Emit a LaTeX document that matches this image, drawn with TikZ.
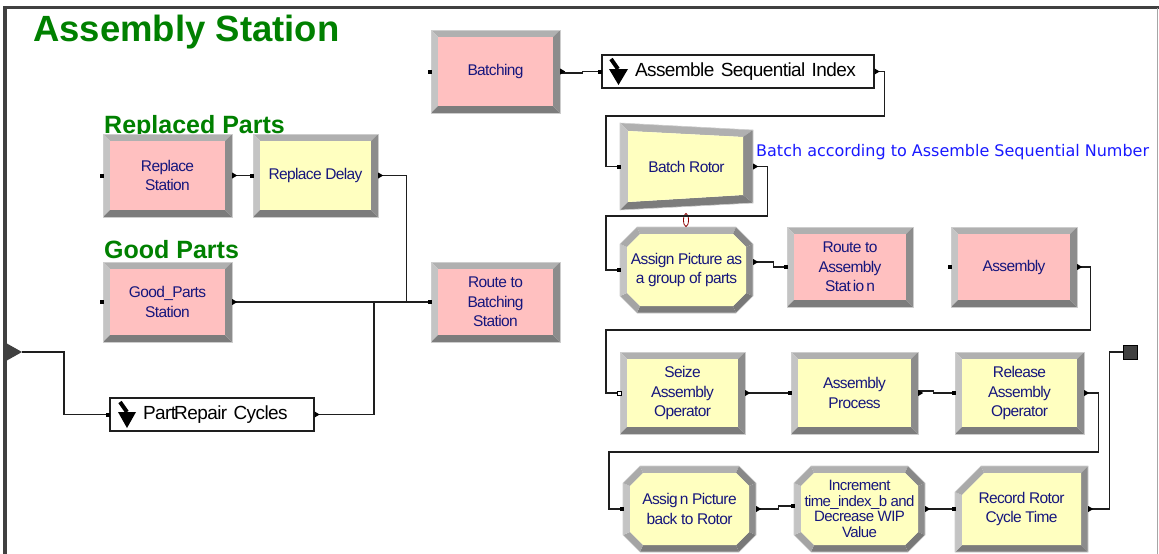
\documentclass[tikz,border=0pt]{standalone}
\usepackage{fontspec}
\setmainfont{Liberation Sans}
\newfontfamily\modfont[LetterSpace=-4]{Liberation Sans}
\newfontfamily\blkfont[LetterSpace=-3]{Liberation Sans}
\newfontfamily\notefont{DejaVu Sans}
\usetikzlibrary{calc}
\definecolor{pinkfill}{RGB}{255,192,192}
\definecolor{yelfill}{RGB}{255,255,192}
\definecolor{modtxt}{RGB}{22,22,125}
\definecolor{ttlgreen}{RGB}{0,128,0}
\definecolor{noteblue}{RGB}{25,25,255}
\definecolor{cT}{RGB}{176,176,176}
\definecolor{cL}{RGB}{196,196,196}
\definecolor{cB}{RGB}{124,124,124}
\definecolor{cR}{RGB}{140,140,140}
\definecolor{cTR}{RGB}{136,136,136}
\definecolor{cBR}{RGB}{120,120,120}
\definecolor{cBL}{RGB}{164,164,164}
\definecolor{cTL}{RGB}{170,170,170}
\definecolor{cO}{RGB}{205,205,205}
\definecolor{linec}{RGB}{30,30,30}
\definecolor{framec}{RGB}{64,64,64}
\tikzset{
  bandT/.style={fill=cT}, bandL/.style={fill=cL}, bandB/.style={fill=cB}, bandR/.style={fill=cR},
  bandTR/.style={fill=cTR}, bandBR/.style={fill=cBR}, bandBL/.style={fill=cBL}, bandTL/.style={fill=cTL},
  bandO/.style={draw=cO, line width=0.6pt},
  modlabel/.style={draw=none, inner sep=0pt, align=center, text=modtxt,
    font=\modfont\fontsize{15.5}{19.5}\selectfont},
  blkbox/.style={draw=linec, line width=1.3pt, fill=white, inner xsep=6pt, inner ysep=0pt,
    text width=#1, align=left, text=black, font=\blkfont\fontsize{19}{22}\selectfont},
  conn/.style={draw=linec, line width=1.1pt},
  entrym/.style={fill=black},
  exitm/.style={fill=black},
  ttl/.style={text=ttlgreen, anchor=base west, inner sep=0pt},
  notesty/.style={text=noteblue, anchor=base west, inner sep=0pt, font=\notefont\fontsize{16}{20}\selectfont},
  dispbox/.style={draw=black, fill=framec, line width=0.8pt, inner sep=0pt},
  ovalsty/.style={draw=red!55!black, fill=white, line width=0.8pt},
  iconsty/.style={fill=black}
}
\newcommand\bevrect[5]{%
  \fill[bandT] (#1,#2) -- (#3,#2) -- ({#3-7},{#2+7}) -- ({#1+7},{#2+7}) -- cycle;
  \fill[bandL] (#1,#2) -- ({#1+7},{#2+7}) -- ({#1+7},{#4-7}) -- (#1,#4) -- cycle;
  \fill[bandB] (#1,#4) -- ({#1+7},{#4-7}) -- ({#3-7},{#4-7}) -- (#3,#4) -- cycle;
  \fill[bandR] (#3,#2) -- (#3,#4) -- ({#3-7},{#4-7}) -- ({#3-7},{#2+7}) -- cycle;
  \fill[#5] ({#1+7},{#2+7}) rectangle ({#3-7},{#4-7});
  \draw[bandO] (#1,#2) rectangle (#3,#4);
}
\newcommand\bevoct[5]{%
  \fill[bandT] ({#1+17},#2) -- ({#3-17},#2) -- ({#3-20},{#2+7}) -- ({#1+20},{#2+7}) -- cycle;
  \fill[bandTR] ({#3-17},#2) -- (#3,{#2+17}) -- ({#3-7},{#2+20}) -- ({#3-20},{#2+7}) -- cycle;
  \fill[bandR] (#3,{#2+17}) -- (#3,{#4-17}) -- ({#3-7},{#4-20}) -- ({#3-7},{#2+20}) -- cycle;
  \fill[bandBR] (#3,{#4-17}) -- ({#3-17},#4) -- ({#3-20},{#4-7}) -- ({#3-7},{#4-20}) -- cycle;
  \fill[bandB] ({#3-17},#4) -- ({#1+17},#4) -- ({#1+20},{#4-7}) -- ({#3-20},{#4-7}) -- cycle;
  \fill[bandBL] ({#1+17},#4) -- (#1,{#4-17}) -- ({#1+7},{#4-20}) -- ({#1+20},{#4-7}) -- cycle;
  \fill[bandL] (#1,{#4-17}) -- (#1,{#2+17}) -- ({#1+7},{#2+20}) -- ({#1+7},{#4-20}) -- cycle;
  \fill[bandTL] (#1,{#2+17}) -- ({#1+17},#2) -- ({#1+20},{#2+7}) -- ({#1+7},{#2+20}) -- cycle;
  \fill[#5] ({#1+20},{#2+7}) -- ({#3-20},{#2+7}) -- ({#3-7},{#2+20}) -- ({#3-7},{#4-20})
     -- ({#3-20},{#4-7}) -- ({#1+20},{#4-7}) -- ({#1+7},{#4-20}) -- ({#1+7},{#2+20}) -- cycle;
  \draw[bandO] ({#1+17},#2) -- ({#3-17},#2) -- (#3,{#2+17}) -- (#3,{#4-17}) -- ({#3-17},#4)
     -- ({#1+17},#4) -- (#1,{#4-17}) -- (#1,{#2+17}) -- cycle;
}
\newcommand\bevrec[5]{%
  \fill[bandT] ({#1+26},#2) -- (#3,#2) -- ({#3-7},{#2+7}) -- ({#1+29},{#2+7}) -- cycle;
  \fill[bandR] (#3,#2) -- (#3,#4) -- ({#3-7},{#4-7}) -- ({#3-7},{#2+7}) -- cycle;
  \fill[bandB] (#3,#4) -- (#1,#4) -- ({#1+7},{#4-7}) -- ({#3-7},{#4-7}) -- cycle;
  \fill[bandL] (#1,#4) -- (#1,{#2+26}) -- ({#1+7},{#2+29}) -- ({#1+7},{#4-7}) -- cycle;
  \fill[bandTL] (#1,{#2+26}) -- ({#1+26},#2) -- ({#1+29},{#2+7}) -- ({#1+7},{#2+29}) -- cycle;
  \fill[#5] ({#1+29},{#2+7}) -- ({#3-7},{#2+7}) -- ({#3-7},{#4-7}) -- ({#1+7},{#4-7}) -- ({#1+7},{#2+29}) -- cycle;
  \draw[bandO] ({#1+26},#2) -- (#3,#2) -- (#3,#4) -- (#1,#4) -- (#1,{#2+26}) -- cycle;
}
\newcommand\modnode[6]{\node[modlabel, minimum width={#4-#2}, minimum height={#5-#3}] (#1) at ({(#2+#4)/2},{(#3+#5)/2}) {#6};}
\newcommand\entrymark[1]{\fill[entrym] ($(#1)+(-3,-2)$) rectangle ($(#1)+(1,2)$);}
\newcommand\exitmark[1]{\fill[exitm] ($(#1)+(0,-3)$) -- ($(#1)+(5,0)$) -- ($(#1)+(0,3)$) -- cycle;}
\begin{document}
\begin{tikzpicture}[x=1pt,y=-1pt]
\useasboundingbox (0,0) rectangle (1159,554);
% frame
\draw[framec, line width=3pt] (4,7) -- (1159,7);
\draw[framec, line width=4pt] (5,6) -- (5,554);
\draw[black!35, line width=0.8pt] (1157.5,8) -- (1157.5,554);
% titles
\node[ttl, font=\bfseries\fontsize{36.5}{40}\selectfont] (title) at (33,41) {Assembly Station};
\node[ttl, font=\bfseries\fontsize{25}{30}\selectfont] (trep) at (104,133) {Replaced Parts};
\node[ttl, font=\bfseries\fontsize{25}{30}\selectfont] (tgood) at (104,258) {Good Parts};
\node[notesty] (note) at (756,156) {Batch according to Assemble Sequential Number};
% module shapes
\bevrect{103}{134}{232}{217}{pinkfill}
\bevrect{253}{134}{378}{217}{yelfill}
\bevrect{103}{262}{232}{342}{pinkfill}
\bevrect{431}{262}{560}{342}{pinkfill}
\bevrect{431}{30}{560}{113}{pinkfill}
\bevrect{787}{227}{913}{307}{pinkfill}
\bevrect{951}{227}{1077}{307}{pinkfill}
\bevrect{620}{352}{745}{434}{yelfill}
\bevrect{791}{352}{918}{434}{yelfill}
\bevrect{955}{352}{1084}{434}{yelfill}
\bevoct{620}{227}{753}{313}{yelfill}
\bevoct{623}{466}{756}{552}{yelfill}
\bevoct{794}{466}{925}{552}{yelfill}
\bevrec{955}{466}{1088}{552}{yelfill}
% batch trapezoid
\fill[bandT] (620,123) -- (753,130) -- (743,137) -- (628,131) -- cycle;
\fill[bandL] (620,123) -- (628,131) -- (628,202) -- (620,210) -- cycle;
\fill[bandB] (620,210) -- (628,202) -- (743,195) -- (753,203) -- cycle;
\fill[bandR] (753,130) -- (753,203) -- (743,195) -- (743,137) -- cycle;
\fill[yelfill] (628,131) -- (743,137) -- (743,195) -- (628,202) -- cycle;
\draw[bandO] (620,123) -- (753,130) -- (753,203) -- (620,210) -- cycle;
% module labels
\modnode{rst}{103}{134}{232}{217}{Replace\\Station}
\modnode{rdl}{253}{134}{378}{217}{Replace Delay}
\modnode{gps}{103}{262}{232}{342}{Good\_Parts\\Station}
\modnode{rbs}{431}{262}{560}{342}{Route to\\Batching\\Station}
\modnode{bat}{431}{30}{560}{113}{Batching}
\modnode{brot}{620}{123}{753}{210}{Batch Rotor}
\modnode{apg}{620}{227}{753}{313}{Assign Picture as\\a group of parts}
\modnode{ras}{787}{227}{913}{307}{Route to\\Assembly\\Stat\kern2pt io\kern2pt n}
\modnode{asm}{951}{227}{1077}{307}{Assembly}
\modnode{sei}{620}{352}{745}{434}{Seize\\Assembly\\Operator}
\modnode{apr}{791}{352}{918}{434}{Assembly\\Process}
\modnode{rel}{955}{352}{1084}{434}{Release\\Assembly\\Operator}
\modnode{abk}{623}{466}{756}{552}{Assig\kern2pt n Picture\\back to Rotor}
\node[modlabel, minimum width=131, minimum height=86, font=\modfont\fontsize{15}{15.5}\selectfont] (inc) at (859.5,509) {Increment\\time\_index\_b and\\Decrease WIP\\Value};
\modnode{rec}{955}{466}{1088}{552}{Record Rotor\\Cycle Time}
% small oval
\draw[ovalsty] (686,220) ellipse [x radius=2.5pt, y radius=6.5pt];
% black-text boxes
\node[blkbox=260pt, minimum height=33pt] (asi) at (738,71.5) {\hspace*{27pt}Assemble Sequential Index};
\node[blkbox=192pt, minimum height=33pt] (prc) at (212,414.5) {\hspace*{27pt}Part\kern-2pt Repair Cycles};
\draw[iconsty, line width=4pt] (611,59) -- (618,69);
\fill[iconsty] (609,69) -- (628,69) -- (618.5,85) -- cycle;
\draw[iconsty, line width=4pt] (120,402) -- (127,412);
\fill[iconsty] (118,412) -- (136,412) -- (127,428) -- cycle;
% entry triangle and dispose
\fill[framec] (6,343) -- (22,352) -- (6,361) -- cycle;
\coordinate (ent) at (22,352);
\node[dispbox, minimum size=14pt] (dsp) at (1130.5,352) {};
% connectors
\coordinate (jA) at (374,0);
\coordinate (c1) at (606,116);
\coordinate (c2) at (606,216);
\coordinate (c3) at (606,330);
\coordinate (c4) at (609,452);
\draw[conn] (ent) -- ++(42,0) |- (prc.west);
\draw[conn] (prc.east) -| (jA |- rbs.west);
\draw[conn] (gps.east) -- (rbs.west);
\draw[conn] (rst.east) -- (rdl.west);
\draw[conn] (rdl.east) -- ++(28,0) |- (rbs.west);
\draw[conn] (bat.east) ++(0,1.5) -- ++(22,0) |- (asi.west);
\draw[conn] (asi.east) -- ++(10,0) |- (c1) |- (brot.west);
\draw[conn] (brot.east) -- ++(14,0) |- (c2) |- (apg.west);
\draw[conn] (apg.east) ++(0,-8) -- ++(20,0) |- (ras.west);
\draw[conn] (asm.east) -- ++(13,0) |- (c3) |- (sei.west);
\draw[conn] (sei.east) -- (apr.west);
\draw[conn] (apr.east) ++(0,-2) -- ++(15,0) |- (rel.west);
\draw[conn] (rel.east) -- ++(14,0) |- (c4) |- (abk.west);
\draw[conn] (abk.east) -- ++(22,0) |- ([yshift=3pt]inc.west);
\draw[conn] (inc.east) -- (rec.west);
\draw[conn] (rec.east) -- ++(21,0) |- (dsp.west);
% entry / exit marks
\foreach \n in {rst,rdl,gps,rbs,bat,asi,brot,apg,ras,asm,apr,rel,abk,rec,prc} {\entrymark{\n.west}}
\entrymark{[yshift=3pt]inc.west}
\draw[fill=white, draw=black, line width=0.5pt] ($(sei.west)+(-3,-2)$) rectangle ($(sei.west)+(1,2)$);
\foreach \n in {rst,rdl,gps,bat,asi,brot,asm,sei,apr,rel,abk,inc,rec,prc} {\exitmark{\n.east}}
\exitmark{[yshift=8pt]apg.east}
\end{tikzpicture}
\end{document}
